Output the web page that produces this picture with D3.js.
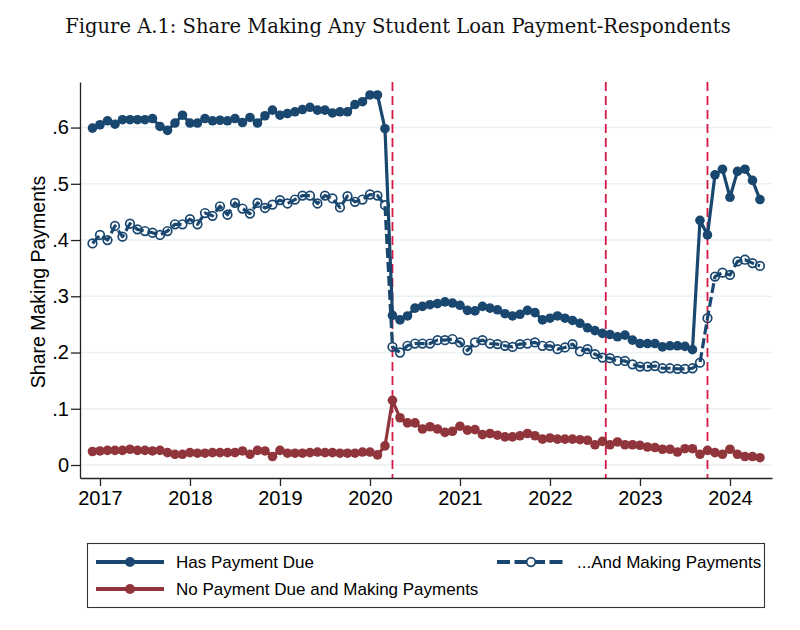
<!DOCTYPE html>
<html>
<head>
<meta charset="utf-8">
<script src="https://cdn.jsdelivr.net/npm/d3@7"></script>
<style>
    body { margin: 0; background: #fff; }
</style>
</head>
<body>
<script>
// Monthly series, Dec 2016 through Apr 2024
var startYear = 2016,
    startMonth = 12;

// Share with a payment due (solid navy)
var hasDue = [
    0.599, 0.605, 0.612, 0.606, 0.614, 0.614, 0.614, 0.614, 0.616, 0.602,
    0.595, 0.608, 0.622, 0.608, 0.608, 0.616, 0.612, 0.613, 0.612, 0.616,
    0.609, 0.618, 0.608, 0.621, 0.631, 0.622, 0.625, 0.628, 0.632, 0.636,
    0.631, 0.631, 0.626, 0.628, 0.628, 0.641, 0.646, 0.658, 0.658, 0.598,
    0.266, 0.258, 0.265, 0.279, 0.282, 0.285, 0.287, 0.290, 0.288, 0.284,
    0.275, 0.274, 0.282, 0.279, 0.276, 0.269, 0.265, 0.268, 0.275, 0.271,
    0.258, 0.261, 0.265, 0.261, 0.257, 0.252, 0.244, 0.239, 0.234, 0.232,
    0.228, 0.231, 0.222, 0.216, 0.216, 0.216, 0.210, 0.212, 0.212, 0.211,
    0.205, 0.435, 0.409, 0.516, 0.526, 0.476, 0.522, 0.526, 0.506, 0.472
];

// ...and actually making payments (dashed, hollow markers)
var makingPay = [
    0.394, 0.409, 0.400, 0.425, 0.406, 0.429, 0.419, 0.416, 0.413, 0.409,
    0.416, 0.428, 0.428, 0.437, 0.428, 0.448, 0.443, 0.460, 0.445, 0.466,
    0.456, 0.447, 0.466, 0.457, 0.463, 0.471, 0.465, 0.472, 0.479, 0.479,
    0.465, 0.479, 0.474, 0.458, 0.478, 0.468, 0.472, 0.481, 0.479, 0.462,
    0.210, 0.200, 0.212, 0.216, 0.216, 0.216, 0.222, 0.222, 0.224, 0.218,
    0.204, 0.218, 0.222, 0.216, 0.215, 0.212, 0.210, 0.215, 0.216, 0.218,
    0.212, 0.212, 0.206, 0.209, 0.215, 0.202, 0.206, 0.197, 0.191, 0.190,
    0.185, 0.185, 0.179, 0.175, 0.175, 0.176, 0.172, 0.172, 0.171, 0.171,
    0.172, 0.182, 0.261, 0.335, 0.342, 0.338, 0.362, 0.365, 0.359, 0.354
];

// No payment due but paying anyway (maroon)
var noDue = [
    0.024, 0.025, 0.026, 0.026, 0.026, 0.028, 0.026, 0.026, 0.025, 0.026,
    0.022, 0.019, 0.019, 0.022, 0.021, 0.021, 0.022, 0.022, 0.022, 0.022,
    0.025, 0.019, 0.026, 0.025, 0.015, 0.026, 0.021, 0.021, 0.021, 0.022,
    0.023, 0.022, 0.022, 0.021, 0.021, 0.021, 0.023, 0.023, 0.018, 0.034,
    0.115, 0.084, 0.075, 0.075, 0.064, 0.068, 0.064, 0.058, 0.060, 0.069,
    0.062, 0.063, 0.054, 0.056, 0.053, 0.050, 0.050, 0.052, 0.056, 0.052,
    0.046, 0.048, 0.046, 0.046, 0.046, 0.045, 0.044, 0.036, 0.042, 0.036,
    0.041, 0.036, 0.036, 0.035, 0.032, 0.031, 0.028, 0.028, 0.023, 0.029,
    0.029, 0.019, 0.026, 0.022, 0.019, 0.028, 0.019, 0.015, 0.015, 0.013
];

// Policy dates marked with red dashed lines (decimal years)
var eventDates = [2020.25, 2022.62, 2023.75];

var xTicks = [2017, 2018, 2019, 2020, 2021, 2022, 2023, 2024];
var yTicks = [0, 0.1, 0.2, 0.3, 0.4, 0.5, 0.6];

var titleText = "Figure A.1: Share Making Any Student Loan Payment-Respondents";
var yLabel = "Share Making Payments";

window.onload = drawChart;

function drawChart(){

    var width = 800,
        height = 630,
        margin = {top: 82, right: 28, bottom: 152, left: 80};

    var navy = "#1a476f",
        maroon = "#90353b",
        red = "#d41a45",
        sans = "'Liberation Sans', Arial, Helvetica, sans-serif";

    var svg = d3.select("body")
        .append("svg")
        .attr("width", width)
        .attr("height", height);

    // decimal year for each month
    var months = hasDue.map(function(d, i){
        return startYear + (startMonth - 1 + i) / 12;
    });

    var x = d3.scaleLinear()
        .domain([2016.778, 2024.467])
        .range([margin.left, width - margin.right]);

    var y = d3.scaleLinear()
        .domain([-0.0231, 0.681])
        .range([height - margin.bottom, margin.top]);

    // Title
    var title = svg.append("text")
        .attr("x", 398)
        .attr("y", 33)
        .attr("text-anchor", "middle")
        .style("font-family", "'DejaVu Serif', serif")
        .style("font-size", "19px")
        .attr("fill", "#111")
        .text(titleText);
    var tl = title.node().getComputedTextLength();
    title.style("font-size", (19 * 666 / tl) + "px");

    // Gridlines
    svg.append("g")
        .selectAll("line")
        .data(yTicks)
        .enter()
        .append("line")
        .attr("x1", x.range()[0])
        .attr("x2", x.range()[1])
        .attr("y1", function(d){ return y(d); })
        .attr("y2", function(d){ return y(d); })
        .attr("stroke", "#e9f1f3")
        .attr("stroke-width", 1.5);

    // Event lines
    svg.append("g")
        .selectAll("line")
        .data(eventDates)
        .enter()
        .append("line")
        .attr("x1", function(d){ return x(d); })
        .attr("x2", function(d){ return x(d); })
        .attr("y1", y.range()[1])
        .attr("y2", y.range()[0])
        .attr("stroke", red)
        .attr("stroke-width", 1.8)
        .attr("stroke-dasharray", "9,5");

    // Axes
    var xAxis = svg.append("g")
        .attr("transform", "translate(0," + y.range()[0] + ")")
        .call(d3.axisBottom(x)
            .tickValues(xTicks)
            .tickFormat(d3.format("d"))
            .tickSize(8)
            .tickPadding(5)
            .tickSizeOuter(0));

    var yAxis = svg.append("g")
        .attr("transform", "translate(" + x.range()[0] + ",0)")
        .call(d3.axisLeft(y)
            .tickValues(yTicks)
            .tickFormat(function(d){ return d === 0 ? "0" : d3.format(".1f")(d).replace(/^0/, ""); })
            .tickSize(9)
            .tickPadding(2)
            .tickSizeOuter(0));

    [xAxis, yAxis].forEach(function(a){
        a.attr("font-family", sans).attr("font-size", 20);
        a.select(".domain").attr("stroke", "#222").attr("stroke-width", 1.3);
        a.selectAll(".tick line").attr("stroke", "#222").attr("stroke-width", 1.3);
        a.selectAll(".tick text").attr("fill", "#000");
    });

    // Y axis title
    svg.append("text")
        .attr("transform", "translate(45," + ((y.range()[0] + y.range()[1]) / 2 + 2) + ") rotate(-90)")
        .attr("text-anchor", "middle")
        .style("font-family", sans)
        .style("font-size", "19.5px")
        .attr("fill", "#000")
        .text(yLabel);

    var line = d3.line()
        .x(function(d){ return x(d[0]); })
        .y(function(d){ return y(d[1]); });

    function pairs(vals){
        return vals.map(function(v, i){ return [months[i], v]; });
    }

    var series = [
        {vals: hasDue, color: navy, dash: null, hollow: false},
        {vals: makingPay, color: navy, dash: "10,4", hollow: true},
        {vals: noDue, color: maroon, dash: null, hollow: false}
    ];

    series.forEach(function(s){
        var g = svg.append("g");
        g.append("path")
            .datum(pairs(s.vals))
            .attr("d", line)
            .attr("fill", "none")
            .attr("stroke", s.color)
            .attr("stroke-width", 3.2)
            .attr("stroke-linejoin", "round")
            .attr("stroke-dasharray", s.dash);

        g.selectAll("circle")
            .data(pairs(s.vals))
            .enter()
            .append("circle")
            .attr("cx", function(d){ return x(d[0]); })
            .attr("cy", function(d){ return y(d[1]); })
            .attr("r", s.hollow ? 4.3 : 4.8)
            .attr("fill", s.hollow ? "none" : s.color)
            .attr("stroke", s.color)
            .attr("stroke-width", s.hollow ? 1.7 : 0);
    });

    // Legend
    var legendItems = [
        {label: "Has Payment Due", color: navy, dash: null, hollow: false, lx: 96, ly: 562},
        {label: "...And Making Payments", color: navy, dash: "13,4.5", hollow: true, lx: 497, ly: 562},
        {label: "No Payment Due and Making Payments", color: maroon, dash: null, hollow: false, lx: 96, ly: 589}
    ];

    svg.append("rect")
        .attr("x", 87.5)
        .attr("y", 543.5)
        .attr("width", 677)
        .attr("height", 64)
        .attr("fill", "none")
        .attr("stroke", "#333")
        .attr("stroke-width", 1.1);

    var leg = svg.selectAll(".legend")
        .data(legendItems)
        .enter()
        .append("g")
        .attr("class", "legend")
        .attr("transform", function(d){ return "translate(" + d.lx + "," + d.ly + ")"; });

    leg.append("line")
        .attr("x1", 0)
        .attr("x2", 68)
        .attr("stroke", function(d){ return d.color; })
        .attr("stroke-width", 4)
        .attr("stroke-dasharray", function(d){ return d.dash; });

    leg.append("circle")
        .attr("cx", 34)
        .attr("r", function(d){ return d.hollow ? 4.3 : 5; })
        .attr("fill", function(d){ return d.hollow ? "#fff" : d.color; })
        .attr("stroke", function(d){ return d.color; })
        .attr("stroke-width", function(d){ return d.hollow ? 1.7 : 0; });

    leg.append("text")
        .attr("x", 80)
        .attr("y", 6)
        .style("font-family", sans)
        .style("font-size", "17px")
        .attr("fill", "#000")
        .text(function(d){ return d.label; });
}
</script>
</body>
</html>
